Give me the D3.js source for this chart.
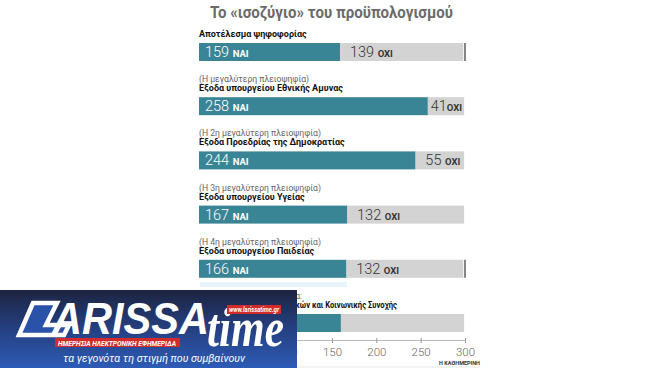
<html>
<head>
<meta charset="utf-8">
<title>Budget</title>
<script src="https://d3js.org/d3.v7.min.js"></script>
<style>
  body { margin: 0; background: #fff; }
  svg { display: block; font-family: Roboto, "Noto Sans", sans-serif; }
</style>
</head>
<body>
<svg width="660" height="370"></svg>
<script>
var notes = ["", "(Η μεγαλύτερη πλειοψηφία)", "(Η 2η μεγαλύτερη πλειοψηφία)", "(Η 3η μεγαλύτερη πλειοψηφία)", "(Η 4η μεγαλύτερη πλειοψηφία)", "(Η μικρότερη πλειοψηφία:"];
var categories = ["Αποτέλεσμα ψηφοφορίας", "Εξοδα υπουργείου Εθνικής Αμυνας", "Εξοδα Προεδρίας της Δημοκρατίας", "Εξοδα υπουργείου Υγείας", "Εξοδα υπουργείου Παιδείας", "Εξοδα υπουργείου Εσωτερικών και Κοινωνικής Συνοχής"];
var yes = [159, 258, 244, 167, 166, 160];
var no = [139, 41, 55, 132, 132, 139];
var showNo = [true, true, true, true, true, false];
var ticks = [0, 50, 100, 150, 200, 250, 300];

var svg = d3.select("svg");

var x = d3.scaleLinear().domain([0, 300]).range([199, 465]);
var y = d3.scaleBand().domain(categories).range([26, 26 + 6 * 54.2]);
var barH = 18;

// title
svg.append("text")
    .attr("x", 210).attr("y", 18)
    .attr("fill", "#6b6b6b")
    .attr("font-size", 16.5)
    .attr("font-weight", 700)
    .attr("textLength", 243).attr("lengthAdjust", "spacingAndGlyphs")
    .text("Το «ισοζύγιο» του προϋπολογισμού");

var g = svg.selectAll(".row")
    .data(categories)
    .enter().append("g")
    .attr("class", "row")
    .attr("transform", function(d) { return "translate(0," + (y(d) + 17) + ")"; });

g.append("text")
    .attr("x", x(0)).attr("y", -15)
    .attr("fill", "#666")
    .attr("font-size", 8.6)
    .text(function(d, i) { return notes[i]; });

g.append("text")
    .attr("x", x(0)).attr("y", -6)
    .attr("fill", "#111")
    .attr("font-size", 9)
    .attr("font-weight", 700)
    .text(function(d) { return d; })
    .filter(function(d, i) { return i == 5; })
    .attr("textLength", 198).attr("lengthAdjust", "spacingAndGlyphs");

// grey (no) part
g.append("rect")
    .attr("x", function(d, i) { return x(yes[i]); })
    .attr("y", 0)
    .attr("width", function(d, i) { return x(yes[i] + no[i]) - x(yes[i]); })
    .attr("height", barH)
    .attr("fill", "#d3d3d3");

// yes part
g.append("rect")
    .attr("x", x(0))
    .attr("y", 0)
    .attr("width", function(d, i) { return x(yes[i]) - x(0); })
    .attr("height", barH)
    .attr("fill", "#3a8595");

// 300 marker where seats are missing
g.filter(function(d, i) { return yes[i] + no[i] < 299; })
    .append("line")
    .attr("x1", x(300)).attr("x2", x(300))
    .attr("y1", 0).attr("y2", barH)
    .attr("stroke", "#333").attr("stroke-width", 1.2);

var yt = g.append("text")
    .attr("x", x(0) + 6).attr("y", 14)
    .attr("fill", "#fff");
yt.append("tspan").attr("font-size", 14.5).attr("font-weight", 300).text(function(d, i) { return yes[i] + " "; });
yt.append("tspan").attr("font-size", 9.5).attr("font-weight", 700).text("ΝΑΙ");

var nt = g.filter(function(d, i) { return showNo[i]; })
    .append("text")
    .attr("y", 14)
    .attr("fill", "#333");
nt.append("tspan").attr("font-size", 14.5).attr("font-weight", 300).text(function(d) { var i = categories.indexOf(d); return no[i] + (no[i] < 50 ? "" : " "); });
nt.append("tspan").attr("font-size", 9.5).attr("font-weight", 700).text("ΟΧΙ");
nt.attr("x", function(d) {
    var i = categories.indexOf(d);
    var w = this.getComputedTextLength();
    var start = x(yes[i]) + 10;
    var end = x(yes[i] + no[i]) - 2;
    return start + w > end ? end - w : start;
});

// axis
var ax = svg.append("g")
    .attr("transform", "translate(0,340)")
    .call(d3.axisBottom(x).tickValues(ticks).tickSize(3).tickSizeOuter(0));
ax.select(".domain").attr("stroke", "#bbb");
ax.selectAll(".tick line").attr("stroke", "#999").attr("y1", -2).attr("y2", 3);
ax.selectAll(".tick text").attr("fill", "#666").attr("font-size", 11.5).attr("font-family", "Roboto, sans-serif").attr("font-weight", 300).attr("dy", "0.9em");

svg.append("line").attr("x1", 200).attr("x2", 480).attr("y1", 367).attr("y2", 367).attr("stroke", "#e6e6e6");
svg.append("text")
    .attr("x", 480).attr("y", 365)
    .attr("text-anchor", "end")
    .attr("fill", "#333").attr("font-size", 5.5).attr("font-weight", 700)
    .text("Η ΚΑΘΗΜΕΡΙΝΗ");

// larissatime logo overlay
var defs = svg.append("defs");
var grad = defs.append("linearGradient").attr("id", "lg").attr("x1", 0).attr("y1", 0).attr("x2", 0).attr("y2", 1);
grad.append("stop").attr("offset", "0%").attr("stop-color", "#1c2440");
grad.append("stop").attr("offset", "45%").attr("stop-color", "#243d7c");
grad.append("stop").attr("offset", "100%").attr("stop-color", "#2d5bb6");

svg.append("rect").attr("x", 200).attr("y", 282).attr("width", 147).attr("height", 5).attr("fill", "#e8f5fa");

var logo = svg.append("g");
logo.append("rect").attr("x", 0).attr("y", 290).attr("width", 297).attr("height", 78).attr("fill", "url(#lg)");
logo.append("path")
    .attr("d", "M33,303 L57,303 L46,325 L69,325 L64,335 L19,335 Z")
    .attr("fill", "#2a52a8").attr("stroke", "#fff").attr("stroke-width", 4.5).attr("stroke-linejoin", "miter");
logo.append("text")
    .attr("x", 52).attr("y", 334)
    .attr("fill", "#fff").attr("font-size", 44).attr("font-weight", 700)
    .attr("font-style", "italic").attr("font-family", "'Liberation Sans', Arial, sans-serif")
    .attr("textLength", 157).attr("lengthAdjust", "spacingAndGlyphs")
    .text("ARISSA");
logo.append("text")
    .attr("x", 207).attr("y", 346)
    .attr("fill", "#fff").attr("font-size", 54).attr("font-style", "italic").attr("font-weight", 700)
    .attr("font-family", "'Liberation Serif', 'DejaVu Serif', serif")
    .attr("textLength", 77).attr("lengthAdjust", "spacingAndGlyphs")
    .text("time");
logo.append("rect").attr("x", 227).attr("y", 305).attr("width", 54).attr("height", 9).attr("fill", "#d32a2a");
logo.append("text")
    .attr("x", 254).attr("y", 312).attr("text-anchor", "middle")
    .attr("fill", "#fff").attr("font-size", 6.5).attr("font-weight", 700).attr("font-style", "italic")
    .attr("textLength", 50).attr("lengthAdjust", "spacingAndGlyphs")
    .text("www.larissatime.gr");
logo.append("rect").attr("x", 55).attr("y", 338).attr("width", 125).attr("height", 9).attr("fill", "#d32a2a");
logo.append("text")
    .attr("x", 58).attr("y", 345.5)
    .attr("fill", "#fff").attr("font-size", 6.5).attr("font-weight", 700).attr("font-style", "italic")
    .attr("textLength", 118).attr("lengthAdjust", "spacingAndGlyphs")
    .text("ΗΜΕΡΗΣΙΑ ΗΛΕΚΤΡΟΝΙΚΗ ΕΦΗΜΕΡΙΔΑ");
logo.append("text")
    .attr("x", 63).attr("y", 362)
    .attr("fill", "#fff").attr("font-size", 11).attr("font-style", "italic")
    .attr("textLength", 182).attr("lengthAdjust", "spacingAndGlyphs")
    .text("τα γεγονότα τη στιγμή που συμβαίνουν");
</script>
</body>
</html>
